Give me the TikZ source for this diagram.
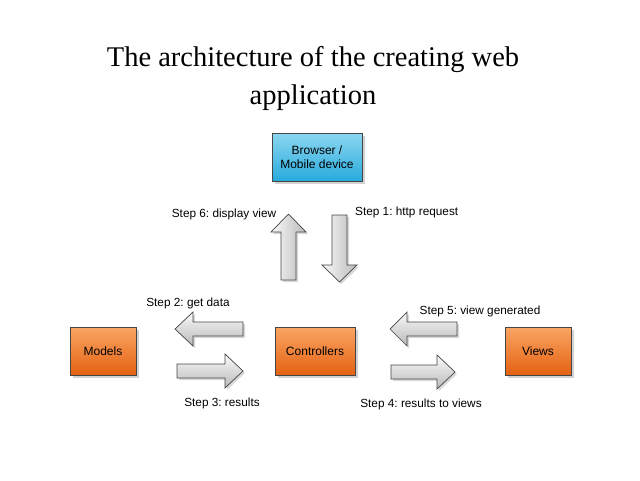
\documentclass[tikz,border=0pt]{standalone}
\usepackage{fontspec}
\setmainfont{Liberation Serif}
\newfontfamily\arialf{Liberation Sans}
\usetikzlibrary{shadows}
\frenchspacing
\definecolor{cyantop}{RGB}{140,215,240}
\definecolor{cyanbot}{RGB}{40,170,220}
\definecolor{orgtop}{RGB}{250,165,100}
\definecolor{orgbot}{RGB}{228,98,18}
\definecolor{edgegray}{RGB}{70,70,70}
\definecolor{arrowlight}{RGB}{250,250,250}
\definecolor{arrowdark}{RGB}{185,185,185}
\tikzset{
  box/.style={draw=edgegray, line width=0.8pt, inner sep=0pt, align=center,
    font=\arialf\fontsize{12}{14.5}\selectfont,
    drop shadow={shadow xshift=2.5pt, shadow yshift=-2.5pt, opacity=0.35}},
  bluebox/.style={box, top color=cyantop, bottom color=cyanbot, minimum width=90pt, minimum height=48pt},
  orangebox/.style={box, top color=orgtop, bottom color=orgbot, minimum height=48pt},
  harrow/.style={draw=edgegray, line width=0.7pt, top color=arrowlight, bottom color=arrowdark,
    drop shadow={shadow xshift=2pt, shadow yshift=-2pt, opacity=0.3}},
  varrow/.style={draw=edgegray, line width=0.7pt, left color=arrowlight, right color=arrowdark,
    drop shadow={shadow xshift=2pt, shadow yshift=-2pt, opacity=0.3}},
  steplabel/.style={font=\arialf\fontsize{11.8}{13}\selectfont, inner sep=0pt}
}
\begin{document}
\begin{tikzpicture}[x=1pt,y=-1pt]
\useasboundingbox[fill=white] (0,0) rectangle (640,480);
% title
\node[font=\fontsize{28.5}{38}\selectfont, align=center, anchor=base] (title) at (313,104)
  {The architecture of the creating web\\application};
% boxes
\node[bluebox] (browser) at (317,157) {Browser /\\Mobile device};
\node[orangebox, minimum width=66pt] (models) at (103,351) {Models};
\node[orangebox, minimum width=80pt] (controllers) at (315,351) {Controllers};
\node[orangebox, minimum width=66pt] (views) at (538,351) {Views};
% step 6: up arrow
\path[varrow] (281,280) -- (281,232) -- (271,232) -- (288.5,214) -- (306,232) -- (296,232) -- (296,280) -- cycle;
% step 1: down arrow
\path[varrow] (332,215) -- (347,215) -- (347,265) -- (357,265) -- (339.5,282) -- (322,265) -- (332,265) -- cycle;
% step 2: left arrow
\path[harrow] (243,322) -- (193,322) -- (193,312) -- (175,329) -- (193,346) -- (193,336) -- (243,336) -- cycle;
% step 3: right arrow
\path[harrow] (177,364) -- (225,364) -- (225,354) -- (243,371) -- (225,388) -- (225,378) -- (177,378) -- cycle;
% step 5: left arrow
\path[harrow] (457,322) -- (407,322) -- (407,312) -- (390,329) -- (407,346) -- (407,336) -- (457,336) -- cycle;
% step 4: right arrow
\path[harrow] (391,365) -- (437,365) -- (437,355) -- (455,372) -- (437,389) -- (437,379) -- (391,379) -- cycle;
% labels
\node[steplabel, anchor=base] (l6) at (224,217) {Step 6: display view};
\node[steplabel, anchor=base west] (l1) at (355,215) {Step 1: http request};
\node[steplabel, anchor=base] (l2) at (188,306) {Step 2: get data};
\node[steplabel, anchor=base] (l3) at (222,406) {Step 3: results};
\node[steplabel, anchor=base] (l5) at (480,314) {Step 5: view generated};
\node[steplabel, anchor=base] (l4) at (421,407) {Step 4: results to views};
\end{tikzpicture}
\end{document}
